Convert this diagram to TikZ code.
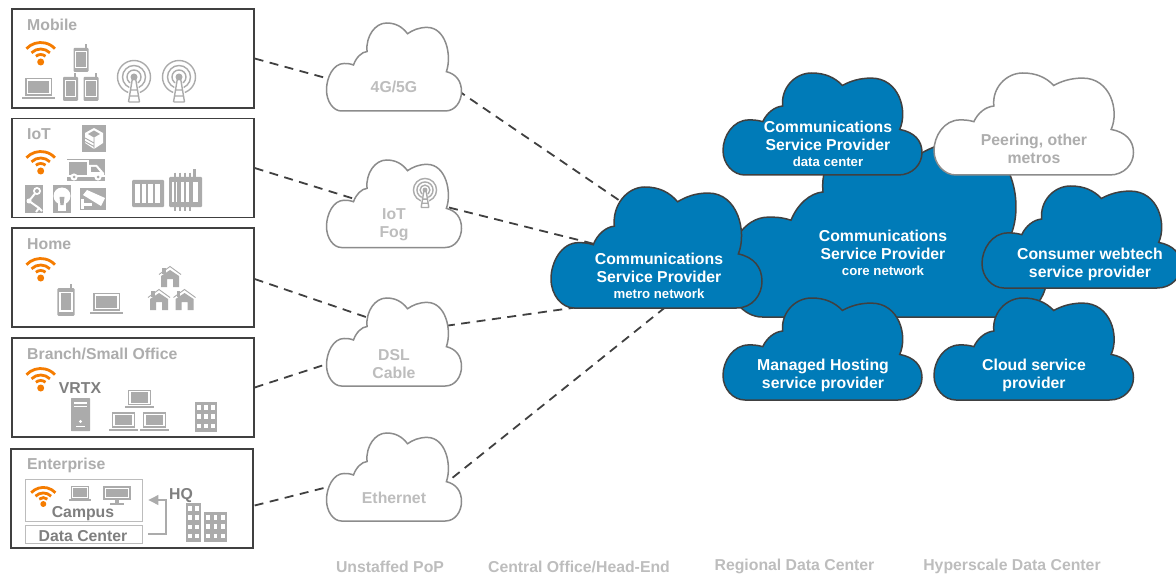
\documentclass[tikz,border=0pt]{standalone}
\usepackage{fontspec}
\setmainfont{Liberation Sans}
\usetikzlibrary{positioning,arrows.meta}
\definecolor{csblue}{HTML}{007BB8}
\definecolor{darkline}{HTML}{404040}
\definecolor{icongrey}{HTML}{ABABAB}
\definecolor{titlegrey}{HTML}{ADADAD}
\definecolor{textgrey}{HTML}{7F7F7F}
\definecolor{wifiorange}{HTML}{F57C00}
\pgfdeclarelayer{links}
\pgfsetlayers{links,main}
\newcommand{\labelfont}{\bfseries\fontsize{15.8}{18}\selectfont}
\newcommand{\subfont}{\bfseries\fontsize{13.2}{15}\selectfont}
\tikzset{
  sitebox/.style={draw=darkline,line width=1.8pt,fill=white,inner sep=0pt,minimum width=241.5pt,minimum height=99pt},
  boxtitle/.style={anchor=west,inner sep=0pt,text=titlegrey,font=\labelfont},
  darktext/.style={inner sep=0pt,text=textgrey,font=\labelfont},
  linktext/.style={inner sep=0pt,text=titlegrey!80!white,font=\labelfont,align=center},
  bluetext/.style={inner sep=0pt,text=white,font=\labelfont,align=center},
  greytext/.style={inner sep=0pt,text=titlegrey,font=\labelfont,align=center},
  bluecloud/.style={draw=darkline,line width=1.5pt,fill=csblue},
  greycloud/.style={draw=black!45,line width=1.5pt,fill=white},
  cloudbox/.style={inner sep=0pt,outer sep=0pt},
  innerbox/.style={draw=icongrey!80!white,line width=.9pt,inner sep=0pt,minimum width=117pt},
  link/.style={draw=darkline,line width=1.8pt,dash pattern=on 9pt off 6.5pt},
  hqarrow/.style={draw=icongrey,line width=1.2pt,-{Triangle[length=10pt,width=10pt]}},
  icon/.style={fill=icongrey,draw=none},
  hole/.style={fill=white,draw=none},
  wifiarc/.style={draw=wifiorange,line width=2.8pt},
  ring/.style={draw=icongrey,line width=1.4pt},
  thinwhite/.style={draw=white,line width=1.1pt}
}
% a cloud filling the box x,y,w,h
\newcommand{\cloudat}[6]{
  \begin{scope}[shift={(#3,#4)},x=#5pt,y=-#6pt]
    \path[#1] (.11,1) -- (.88,1) .. controls (.955,1) and (1,.89) .. (1,.78)
      .. controls (1,.66) and (.96,.58) .. (.888,.553)
      .. controls (.93,.37) and (.885,.05) .. (.745,.05)
      .. controls (.685,.05) and (.64,.08) .. (.60,.122)
      .. controls (.56,.04) and (.51,0) .. (.445,0)
      .. controls (.36,0) and (.29,.15) .. (.30,.324)
      .. controls (.26,.33) and (.22,.39) .. (.2,.477)
      .. controls (.17,.46) and (.15,.46) .. (.13,.46)
      .. controls (.05,.46) and (0,.62) .. (0,.76)
      .. controls (0,.89) and (.05,1) .. (.11,1) -- cycle;
  \end{scope}
  \node[cloudbox,minimum width=#5pt,minimum height=#6pt] (#2) at ({#3+#5/2},{#4+#6/2}) {};
}
% icons: x, y, scale
\newcommand{\wifiicon}[3]{
  \begin{scope}[shift={(#1,#2)},scale=#3]
    \fill[wifiorange] (0,0) circle (3.5);
    \draw[wifiarc] (-137:19.5) arc[start angle=-137,end angle=-43,radius=19.5];
    \draw[wifiarc] (-135:13) arc[start angle=-135,end angle=-45,radius=13];
    \draw[wifiarc] (-130:7.5) arc[start angle=-130,end angle=-50,radius=7.5];
  \end{scope}
}
\newcommand{\phoneicon}[3]{
  \begin{scope}[shift={(#1,#2)},scale=#3]
    \fill[icon,rounded corners=1pt] (-7.5,-12) rectangle (7.5,12);
    \fill[icon] (3.5,-16) rectangle (5.5,-12);
    \fill[hole] (-5.8,-9) rectangle (5.8,8.5);
    \fill[icon] (-4.6,-7.8) rectangle (4.6,7.3);
  \end{scope}
}
\newcommand{\laptopicon}[3]{
  \begin{scope}[shift={(#1,#2)},scale=#3]
    \fill[icon] (-13.5,-9) rectangle (13.5,9);
    \fill[hole] (-12,-7.5) rectangle (12,7.5);
    \fill[icon] (-10.5,-6) rectangle (10.5,6);
    \fill[icon] (-16.5,10) rectangle (16.5,12.5);
  \end{scope}
}
\newcommand{\towericon}[3]{
  \begin{scope}[shift={(#1,#2)},scale=#3]
    \draw[ring] (0,0) circle (16.5) (0,0) circle (11.5) (0,0) circle (7);
    \fill[hole] (-3,3) -- (3,3) -- (8,26) -- (-8,26) -- cycle;
    \fill[icon] (0,0) circle (3.5);
    \draw[ring] (-5.5,25) -- (-1.5,1) (5.5,25) -- (1.5,1) (-5.5,25) -- (5.5,25)
      (-4.5,19) -- (4.5,19) (-3.5,13) -- (3.5,13);
  \end{scope}
}
\newcommand{\houseicon}[3]{
  \begin{scope}[shift={(#1,#2)},scale=#3]
    \fill[icon] (-9,0) -- (-9,-11) -- (0,-17) -- (9,-11) -- (9,0) -- (3,0) -- (3,-8) -- (-3,-8) -- (-3,0) -- cycle;
    \fill[icon] (-8,-13.5) rectangle (-4.5,-19);
    \draw[draw=icongrey,line width=.9pt] (-11,-12.5) -- (0,-20.5) -- (11,-12.5);
  \end{scope}
}
% building: x, y, w, h, columns, rows
\newcommand{\buildingicon}[6]{
  \fill[icon] (#1,#2) rectangle ++(#3,#4);
  \foreach \col in {1,...,#5} {
    \foreach \row in {1,...,#6} {
      \fill[hole] ({#1+(\col-.76)*#3/#5},{#2+1.2+(\row-.8)*(#4-2)/#6}) rectangle ++({.52*#3/#5},{.5*(#4-2)/#6});
    }
  }
}
% rack: x, y, w, h
\newcommand{\rackicon}[4]{
  \fill[icon,rounded corners=1pt] (#1,#2) rectangle ++(#3,#4);
  \foreach \col in {0,1,2,3} {
    \fill[hole] ({#1+.09*#3+\col*.21*#3},{#2+.16*#4}) rectangle ++({.15*#3},{.68*#4});
  }
}
\begin{document}
\begin{tikzpicture}[x=1pt,y=-1pt]
  \useasboundingbox (0,0) rectangle (1176,575);
  \clip (0,0) rectangle (1176,575);

  % sites on the left
  \node[sitebox] (mobile) at (133,58.5) {};
  \node[sitebox] (iot) at (133,168) {};
  \node[sitebox] (home) at (133,277.5) {};
  \node[sitebox] (branch) at (133,387.5) {};
  \node[sitebox] (enterprise) at (132,498.5) {};

  \node[boxtitle] (mobiletitle) at (27,25) {Mobile};
  \node[boxtitle] (iottitle) at (27,134.5) {IoT};
  \node[boxtitle] (hometitle) at (27,244) {Home};
  \node[boxtitle] (branchtitle) at (27,353.5) {Branch/Small Office};
  \node[boxtitle] (enterprisetitle) at (27,465.5) {Enterprise};

  \wifiicon{40.7}{62}{1}
  \wifiicon{40.7}{171}{1}
  \wifiicon{40.7}{278}{1}
  \wifiicon{40.7}{388}{1}
  \wifiicon{43.3}{504}{.85}

  % mobile icons
  \phoneicon{81}{60}{1}
  \phoneicon{70.5}{89}{1}
  \phoneicon{91}{89}{1}
  \laptopicon{38.5}{87}{1}
  \towericon{134}{77}{1}
  \towericon{179}{77}{1}

  % iot icons
  \fill[icon] (82,125) rectangle (106,152);
  \fill[hole] (85,133) -- (94,128) -- (103,133) -- (103,143) -- (94,149) -- (85,143) -- cycle;
  \fill[icon] (88,134) -- (94,130.5) -- (100,134) -- (94,137.5) -- cycle;
  \draw[icon,draw=icongrey,line width=.9pt] (85,138) -- (94,143) (85,141.5) -- (94,146.5) (94,137.5) -- (94,149);
  \fill[icon] (67,159) rectangle (105,181);
  \draw[thinwhite,line width=1.6pt] (68,161) rectangle (88,176) (66,176) -- (106,176);
  \fill[hole] (89,165) -- (97,165) -- (104,173) -- (104,177) -- (89,177) -- cycle;
  \fill[icon] (91,167) -- (96,167) -- (100,172) -- (91,172) -- cycle;
  \fill[hole] (74,177) circle (3.6) (98,177) circle (3.6);
  \fill[icon] (74,177) circle (1.5) (98,177) circle (1.5);
  \fill[icon] (25,185) rectangle (43,213);
  \draw[thinwhite,line width=2pt] (37,191) -- (29,201) -- (39,208) (39,208) -- (36,212) (39,208) -- (42,211);
  \fill[hole] (37,191) circle (4);
  \fill[icon] (37,191) circle (2);
  \fill[hole] (29,201) circle (2.5);
  \fill[icon] (53,185) rectangle (71,213);
  \fill[hole] (62,196) circle (8.5);
  \fill[hole] (58,200) rectangle (66,211);
  \fill[icon] (59.5,197) -- (64.5,197) -- (63.5,205) -- (60.5,205) -- cycle;
  \fill[icon] (80,188) rectangle (106,210);
  \fill[hole] (83,195) -- (87,190) -- (105,198) -- (101,206) -- cycle;
  \fill[hole] (81,209) rectangle (84,199);
  \fill[hole] (84,203) -- (92,203) -- (92,206) -- (84,206) -- cycle;
  \rackicon{132}{180}{32}{27}
  \rackicon{169}{177}{33}{30}
  \fill[icon] (193,169) rectangle (196,177);
  \draw[icon,draw=icongrey,line width=1.1pt] (175,173) -- (175,211) (180,173) -- (180,211) (185,173) -- (185,211) (190,173) -- (190,211);

  % home icons
  \phoneicon{66}{302}{1.15}
  \laptopicon{106.5}{301.5}{1}
  \houseicon{170}{287}{1}
  \houseicon{159}{310}{1}
  \houseicon{184.5}{310}{1}

  % branch icons
  \node[darktext] (vrtx) at (80,388) {VRTX};
  \fill[icon,rounded corners=.5pt] (71,398) rectangle (90,431);
  \fill[hole] (74,402) rectangle (87,403.5);
  \fill[hole] (74,406) rectangle (87,407);
  \fill[hole] (80.5,421.5) circle (1.6);
  \fill[hole] (76,426) rectangle (85,427);
  \laptopicon{139.5}{397.5}{.85}
  \laptopicon{123.5}{420}{.85}
  \laptopicon{154.5}{420}{.85}
  \buildingicon{195}{402}{22}{30}{3}{3}

  % enterprise icons
  \node[innerbox,minimum height=42pt] (campus) at (83.5,500) {};
  \node[innerbox,minimum height=18pt] (datacenter) at (83.5,534) {};
  \laptopicon{80}{492.5}{.68}
  \fill[icon] (103,486) rectangle (131,500);
  \fill[hole] (105,488) rectangle (129,498);
  \fill[icon] (106,489) rectangle (128,497);
  \fill[icon] (115,500) rectangle (119,503);
  \fill[icon] (110,503) rectangle (124,504.5);
  \node[darktext] (campustext) at (83,514) {Campus};
  \node[darktext] (dctext) at (83,536) {Data Center};
  \node[darktext] (hq) at (181,495.5) {HQ};
  \buildingicon{186}{503}{15}{39}{2}{4}
  \buildingicon{204}{512}{23}{30}{3}{3}
  \draw[hqarrow] ([xshift=6pt]datacenter.east) -| (166,500) -- ([xshift=6pt]campus.east);

  % link clouds
  \cloudat{greycloud}{lte}{326.5}{23}{135}{88}
  \cloudat{greycloud}{fog}{326.5}{160}{135}{87.5}
  \cloudat{greycloud}{dsl}{326.5}{298}{135}{88}
  \cloudat{greycloud}{ethernet}{326.5}{433}{135}{88}
  \node[linktext] (ltetext) at (394,87) {4G/5G};
  \node[linktext] (fogtext) at (394,224.5) {IoT\\Fog};
  \node[linktext] (dsltext) at (394,364) {DSL\\Cable};
  \node[linktext] (ethernettext) at (394,498) {Ethernet};
  \towericon{425}{190}{.7}

  % provider clouds
  \cloudat{bluecloud}{core}{727}{132}{320}{185}
  \cloudat{bluecloud}{metro}{551}{187}{211}{121}
  \cloudat{bluecloud}{dcenter}{723}{73}{199}{102}
  \cloudat{greycloud}{peering}{934}{73}{199.5}{102}
  \cloudat{bluecloud}{webtech}{982}{186}{199}{102}
  \cloudat{bluecloud}{hosting}{723}{298}{199}{102}
  \cloudat{bluecloud}{cloudsp}{934}{298}{199.5}{102}
  \node[bluetext] (metrotext) at (659,275.5) {Communications\\Service Provider\\[-2pt]{\subfont metro network}};
  \node[bluetext] (dcentertext) at (828,143.5) {Communications\\Service Provider\\[-2pt]{\subfont data center}};
  \node[bluetext] (coretext) at (883,252.5) {Communications\\Service Provider\\[-2pt]{\subfont core network}};
  \node[greytext] (peeringtext) at (1034,148.5) {Peering, other\\metros};
  \node[bluetext] (webtechtext) at (1090,264) {Consumer webtech\\service provider};
  \node[bluetext] (hostingtext) at (823,375) {Managed Hosting\\service provider};
  \node[bluetext] (cloudsptext) at (1034,375) {Cloud service\\provider};

  % bottom row
  \node[greytext,text=titlegrey!80!white] (pop) at (390,566.5) {Unstaffed PoP};
  \node[greytext,text=titlegrey!80!white] (office) at (579,566.5) {Central Office/Head-End};
  \node[greytext,text=titlegrey!80!white] (regional) at (794.5,566.5) {Regional Data Center};
  \node[greytext,text=titlegrey!80!white] (hyperscale) at (1012,566.5) {Hyperscale Data Center};

  % connectors run under the clouds
  \begin{pgfonlayer}{links}
    \draw[link] (mobile.east) -- ([xshift=-53.5pt,yshift=-15pt]lte.center);
    \draw[link] (iot.east) -- ([xshift=-24pt]fog.center);
    \draw[link] ([yshift=-1.5pt]home.east) -- ([xshift=-13.5pt,yshift=20pt]dsl.center);
    \draw[link] (branch.east) -- ([xshift=-48.5pt,yshift=-16pt]dsl.center);
    \draw[link] ([xshift=1pt,yshift=-7pt]enterprise.east) -- ([xshift=-48.5pt,yshift=-5.5pt]ethernet.center);
    \draw[link] ([xshift=50.5pt,yshift=-14.4pt]lte.center) -- ([xshift=-16.5pt,yshift=33pt]metro.center);
    \draw[link] ([xshift=40pt]fog.center) -- ([xshift=-56pt,yshift=2pt]metro.center);
    \draw[link] ([xshift=36.5pt,yshift=14pt]dsl.center) -- ([xshift=-56.5pt,yshift=-56.5pt]metro.center);
    \draw[link] ([xshift=46.5pt,yshift=-10.4pt]ethernet.center) -- ([xshift=23.5pt,yshift=-48pt]metro.center);
  \end{pgfonlayer}
\end{tikzpicture}
\end{document}
